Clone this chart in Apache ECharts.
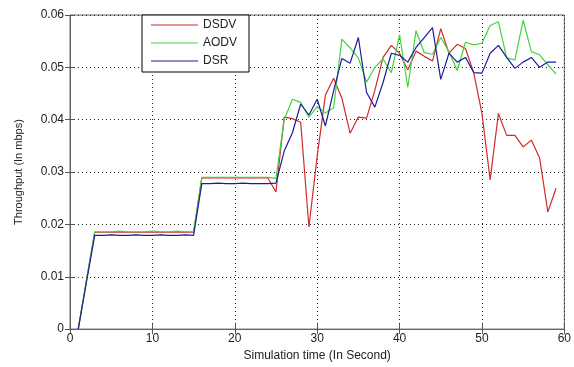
<!DOCTYPE html>
<html>
<head>
<meta charset="utf-8">
<script src="https://cdn.jsdelivr.net/npm/echarts@6/dist/echarts.min.js"></script>
<style>
html, body { margin: 0; padding: 0; background: #fff; }
#chart { width: 574px; height: 367px; }
</style>
</head>
<body>
<div id="chart"></div>
<script>
// simulation time, seconds
var times = [1, 2, 3, 4, 5, 6, 7, 8, 9, 10, 11, 12, 13, 14, 15, 16, 17, 18, 19, 20,
    21, 22, 23, 24, 25, 26, 27, 28, 29, 30, 31, 32, 33, 34, 35, 36, 37, 38, 39, 40,
    41, 42, 43, 44, 45, 46, 47, 48, 49, 50, 51, 52, 53, 54, 55, 56, 57, 58, 59];

var dsdv = [0, 0.0093, 0.0185, 0.0185, 0.0185, 0.0185, 0.0185, 0.0185, 0.0185, 0.0185, 0.0185, 0.0185, 0.0185, 0.0185, 0.0185, 0.0289, 0.0289, 0.0289, 0.0289, 0.0289,
    0.0289, 0.0289, 0.0289, 0.0289, 0.0262, 0.0405, 0.0402, 0.0395, 0.0195, 0.0330, 0.0447, 0.0479, 0.0441, 0.0374, 0.0405, 0.0403, 0.0456, 0.0519, 0.0542, 0.0527,
    0.0495, 0.0531, 0.0521, 0.0512, 0.0574, 0.0527, 0.0544, 0.0536, 0.0490, 0.0412, 0.0285, 0.0412, 0.0370, 0.0370, 0.0348, 0.0361, 0.0327, 0.0224, 0.0269];

var aodv = [0, 0.0093, 0.0186, 0.0186, 0.0186, 0.0187, 0.0186, 0.0186, 0.0186, 0.0187, 0.0186, 0.0186, 0.0187, 0.0186, 0.0186, 0.0290, 0.0290, 0.0290, 0.0290, 0.0290,
    0.0290, 0.0290, 0.0290, 0.0290, 0.0288, 0.0400, 0.0439, 0.0433, 0.0405, 0.0425, 0.0413, 0.0423, 0.0554, 0.0537, 0.0518, 0.0472, 0.0500, 0.0516, 0.0490, 0.0562,
    0.0462, 0.0570, 0.0528, 0.0525, 0.0557, 0.0530, 0.0494, 0.0548, 0.0543, 0.0546, 0.0580, 0.0587, 0.0518, 0.0514, 0.0590, 0.0530, 0.0524, 0.0505, 0.0487];

var dsr = [0, 0.0090, 0.0179, 0.0179, 0.0180, 0.0179, 0.0179, 0.0180, 0.0179, 0.0179, 0.0180, 0.0179, 0.0179, 0.0180, 0.0179, 0.0278, 0.0278, 0.0279, 0.0278, 0.0278,
    0.0279, 0.0278, 0.0278, 0.0278, 0.0279, 0.0340, 0.0375, 0.0430, 0.0409, 0.0439, 0.0388, 0.0455, 0.0517, 0.0508, 0.0557, 0.0452, 0.0424, 0.0471, 0.0527, 0.0523,
    0.0510, 0.0538, 0.0557, 0.0576, 0.0477, 0.0527, 0.0510, 0.0519, 0.0490, 0.0489, 0.0527, 0.0542, 0.0519, 0.0498, 0.0510, 0.0519, 0.0500, 0.0510, 0.0510];

var seriesNames = ['DSDV', 'AODV', 'DSR'];
var seriesColors = ['#d42a2a', '#3fd43f', '#1c1c9c'];

function pairs(vals) {
    return times.map(function (t, i) { return [t, vals[i]]; });
}

var chart = echarts.init(document.getElementById('chart'));

var font = 'Liberation Sans, Arial, sans-serif';
var gridLine = { show: true, lineStyle: { color: '#222', type: [1, 3], width: 1 } };
var tick = { show: true, inside: true, length: 5, lineStyle: { color: '#555' } };

var option = {
    animation: false,
    backgroundColor: '#fff',
    grid: {
        left: 70, right: 2, top: 15, bottom: 37,
        show: true, borderColor: '#666', borderWidth: 1, backgroundColor: '#fff'
    },
    legend: {
        orient: 'vertical',
        left: 142, top: 15,
        padding: [4, 12, 5, 9],
        itemGap: 6,
        icon: 'rect',
        itemWidth: 47, itemHeight: 1.2,
        backgroundColor: '#fff',
        borderColor: '#000', borderWidth: 1,
        textStyle: { fontFamily: font, fontSize: 12, color: '#222' },
        data: seriesNames
    },
    xAxis: [{
        type: 'value', min: 0, max: 60, interval: 10,
        name: 'Simulation time (In Second)',
        nameLocation: 'middle', nameGap: 17,
        nameTextStyle: { fontFamily: font, fontSize: 12, color: '#222' },
        axisLine: { show: true, lineStyle: { color: '#666' } },
        axisTick: tick,
        axisLabel: { fontFamily: font, fontSize: 12, color: '#222', margin: 4 },
        splitLine: gridLine
    }, {
        type: 'value', min: 0, max: 60, interval: 10, position: 'top',
        axisLine: { show: false }, axisTick: tick, axisLabel: { show: false },
        splitLine: { show: false }
    }],
    yAxis: [{
        type: 'value', min: 0, max: 0.06, interval: 0.01,
        name: 'Throughput (In mbps)',
        nameLocation: 'middle', nameGap: 46,
        nameTextStyle: { fontFamily: font, fontSize: 11, color: '#222' },
        axisLine: { show: true, lineStyle: { color: '#666' } },
        axisTick: tick,
        axisLabel: {
            fontFamily: font, fontSize: 12, color: '#222', margin: 6,
            formatter: function (v) { return v === 0 ? '0' : v.toFixed(2); }
        },
        splitLine: gridLine
    }, {
        type: 'value', min: 0, max: 0.06, interval: 0.01, position: 'right',
        axisLine: { show: false }, axisTick: tick, axisLabel: { show: false },
        splitLine: { show: false }
    }],
    series: [
        { name: seriesNames[0], type: 'line', data: pairs(dsdv) },
        { name: seriesNames[1], type: 'line', data: pairs(aodv) },
        { name: seriesNames[2], type: 'line', data: pairs(dsr) }
    ].map(function (s, i) {
        s.symbol = 'none';
        s.color = seriesColors[i];
        s.lineStyle = { width: 1.2, color: seriesColors[i] };
        return s;
    })
};

chart.setOption(option);
</script>
</body>
</html>
